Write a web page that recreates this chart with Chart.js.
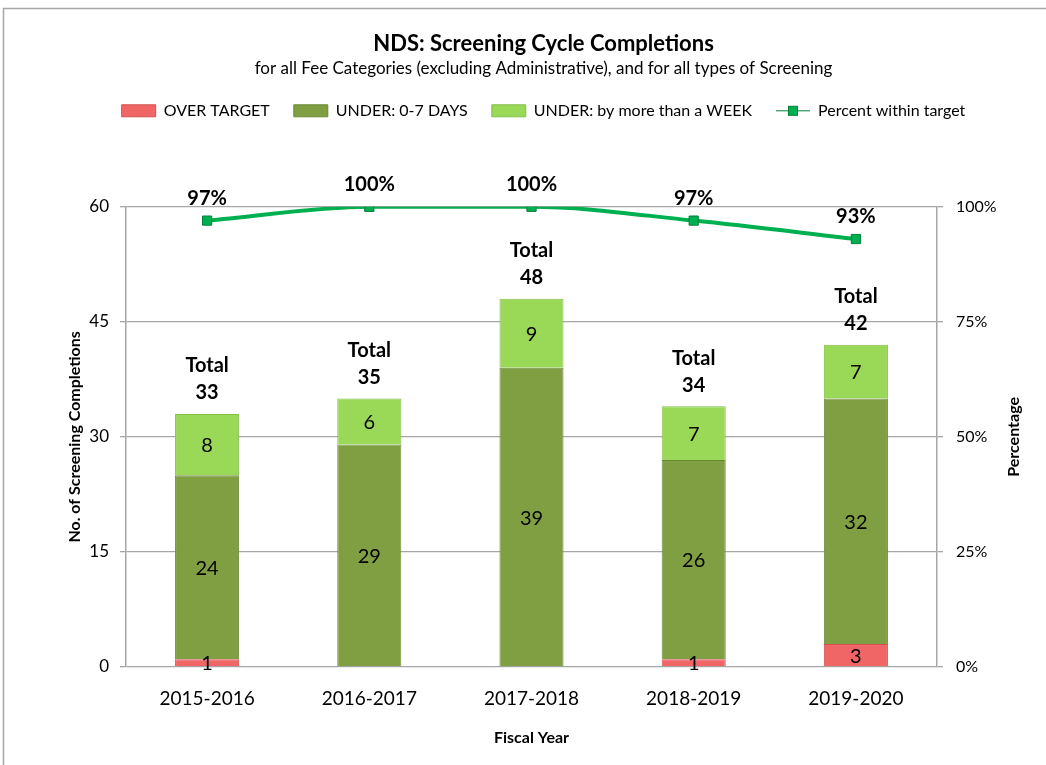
<!DOCTYPE html>
<html>
<head>
<meta charset="utf-8">
<title>NDS: Screening Cycle Completions</title>
<script src="https://cdn.jsdelivr.net/npm/chart.js@4/dist/chart.umd.min.js"></script>
<style>
  body { margin: 0; background: #fff; }
  canvas { display: block; }
</style>
</head>
<body>
<canvas id="chart" width="1046" height="765"></canvas>
<script>
// Data
const categories = ["2015-2016", "2016-2017", "2017-2018", "2018-2019", "2019-2020"];
const overTarget = [1, 0, 0, 1, 3];
const under07Days = [24, 29, 39, 26, 32];
const underMoreThanWeek = [8, 6, 9, 7, 7];
const percentWithin = [97, 100, 100, 97, 93];
const countTicks = [0, 15, 30, 45, 60];
const percentTicks = [0, 25, 50, 75, 100];

const FONT = "Lato, 'Liberation Sans', sans-serif";
const LINE_GREEN = "#00B050";

// grey frame around the chart (top + left edges are visible in the reference)
const framePlugin = {
    id: "frame",
    beforeDraw(chart) {
        const ctx = chart.ctx;
        ctx.save();
        ctx.strokeStyle = "#a6a6a6";
        ctx.lineWidth = 1.5;
        ctx.beginPath();
        ctx.moveTo(3.5, chart.height);
        ctx.lineTo(3.5, 8.5);
        ctx.lineTo(chart.width, 8.5);
        ctx.stroke();
        ctx.restore();
    }
};

// extra room under the legend so the plot starts lower
const legendSpacer = {
    id: "legendSpacer",
    beforeInit(chart) {
        const origFit = chart.legend.fit;
        chart.legend.fit = function () {
            origFit.call(this);
            this.height += 78;
        };
    }
};

// marker on the line legend item + right axis title (reads bottom to top)
const extrasPlugin = {
    id: "extras",
    afterDraw(chart) {
        const ctx = chart.ctx;
        const boxes = chart.legend.legendHitBoxes;
        if (boxes && boxes[3]) {
            const b = boxes[3];
            const cx = b.left + 17;
            const cy = b.top + b.height / 2;
            ctx.save();
            ctx.fillStyle = LINE_GREEN;
            ctx.strokeStyle = "#00803a";
            ctx.lineWidth = 1;
            ctx.fillRect(cx - 4.5, cy - 4.5, 9, 9);
            ctx.strokeRect(cx - 4.5, cy - 4.5, 9, 9);
            ctx.restore();
        }

        const area = chart.chartArea;
        ctx.save();
        ctx.translate(1014, (area.top + area.bottom) / 2);
        ctx.rotate(-Math.PI / 2);
        ctx.font = "bold 16px " + FONT;
        ctx.fillStyle = "#000";
        ctx.textAlign = "center";
        ctx.textBaseline = "middle";
        ctx.fillText("Percentage", 0, 0);
        ctx.restore();
    }
};

// value labels, totals and percentages
const labelPlugin = {
    id: "valueLabels",
    afterDatasetsDraw(chart) {
        const ctx = chart.ctx;
        ctx.save();
        ctx.textAlign = "center";
        ctx.textBaseline = "middle";
        ctx.fillStyle = "#000";

        // segment values
        ctx.font = "20px " + FONT;
        [0, 1, 2].forEach(di => {
            const meta = chart.getDatasetMeta(di);
            const data = chart.data.datasets[di].data;
            meta.data.forEach((el, i) => {
                if (!data[i]) return;
                ctx.fillText(String(data[i]), el.x, (el.y + el.base) / 2 + 1);
            });
        });

        // totals above bars
        ctx.font = "bold 20px " + FONT;
        const topMeta = chart.getDatasetMeta(2);
        topMeta.data.forEach((el, i) => {
            const total = overTarget[i] + under07Days[i] + underMoreThanWeek[i];
            ctx.fillText("Total", el.x, el.y - 48);
            ctx.fillText(String(total), el.x, el.y - 21);
        });

        // percentages above line points
        const lineMeta = chart.getDatasetMeta(3);
        lineMeta.data.forEach((pt, i) => {
            ctx.fillText(percentWithin[i] + "%", pt.x, pt.y - 22);
        });
        ctx.restore();
    }
};

const ctx = document.getElementById("chart").getContext("2d");
new Chart(ctx, {
    type: "bar",
    data: {
        labels: categories,
        datasets: [
            {
                label: "OVER TARGET",
                data: overTarget,
                backgroundColor: "#f06666",
                borderColor: "#d45050",
                borderWidth: 1,
                stack: "s",
                yAxisID: "y",
                barPercentage: 0.395,
                categoryPercentage: 1
            },
            {
                label: "UNDER: 0-7 DAYS",
                data: under07Days,
                backgroundColor: "#809f42",
                borderColor: "#6a8a34",
                borderWidth: 1,
                stack: "s",
                yAxisID: "y",
                barPercentage: 0.395,
                categoryPercentage: 1
            },
            {
                label: "UNDER: by more than a WEEK",
                data: underMoreThanWeek,
                backgroundColor: "#9ad858",
                borderColor: "#84c047",
                borderWidth: 1,
                stack: "s",
                yAxisID: "y",
                barPercentage: 0.395,
                categoryPercentage: 1
            },
            {
                type: "line",
                label: "Percent within target",
                data: percentWithin,
                yAxisID: "y1",
                borderColor: LINE_GREEN,
                backgroundColor: LINE_GREEN,
                borderWidth: 4,
                cubicInterpolationMode: "monotone",
                pointStyle: "rect",
                pointRadius: 6.5,
                pointBackgroundColor: LINE_GREEN,
                pointBorderColor: "#00803a",
                pointBorderWidth: 1,
                fill: false
            }
        ]
    },
    options: {
        responsive: false,
        animation: false,
        layout: { padding: { top: 20, left: 65, right: 24, bottom: 18 } },
        plugins: {
            tooltip: { enabled: false },
            title: {
                display: true,
                text: "NDS: Screening Cycle Completions",
                color: "#000",
                font: { family: FONT, size: 22, weight: "bold" },
                padding: { top: 11, bottom: 0 }
            },
            subtitle: {
                display: true,
                text: "for all Fee Categories (excluding Administrative), and for all types of Screening",
                color: "#000",
                font: { family: FONT, size: 17 },
                padding: { top: 1, bottom: 0 }
            },
            legend: {
                display: true,
                position: "top",
                labels: {
                    color: "#000",
                    font: { family: FONT, size: 16 },
                    usePointStyle: true,
                    pointStyleWidth: 34,
                    boxHeight: 12,
                    padding: 24,
                    generateLabels(chart) {
                        const items = Chart.defaults.plugins.legend.labels.generateLabels(chart);
                        items.forEach((it, i) => {
                            it.pointStyle = i === 3 ? "line" : "rect";
                        });
                        return items;
                    }
                }
            }
        },
        scales: {
            x: {
                stacked: true,
                grid: { display: false, drawTicks: false },
                border: { display: false },
                ticks: { color: "#000", font: { family: FONT, size: 19 }, padding: 20 },
                title: {
                    display: true,
                    text: "Fiscal Year",
                    color: "#000",
                    font: { family: FONT, size: 16, weight: "bold" },
                    padding: { top: 0, bottom: 0 }
                },
                afterFit(scale) { scale.height = 80; }
            },
            y: {
                stacked: true,
                position: "left",
                min: 0,
                max: 60,
                afterBuildTicks(scale) { scale.ticks = countTicks.map(v => ({ value: v })); },
                grid: { color: "#a6a6a6", lineWidth: 1.3, tickLength: 6, drawTicks: true },
                border: { display: true, color: "#a6a6a6", width: 1.5 },
                ticks: { color: "#000", font: { family: FONT, size: 17 }, padding: 11 },
                title: {
                    display: true,
                    text: "No. of Screening Completions",
                    color: "#000",
                    font: { family: FONT, size: 16, weight: "bold" },
                    padding: { top: 0, bottom: 0 }
                },
                afterFit(scale) { scale.width = 61; }
            },
            y1: {
                position: "right",
                min: 0,
                max: 100,
                afterBuildTicks(scale) { scale.ticks = percentTicks.map(v => ({ value: v })); },
                grid: { drawOnChartArea: false, color: "#a6a6a6", lineWidth: 1.3, tickLength: 6 },
                border: { display: true, color: "#a6a6a6", width: 1.5 },
                ticks: {
                    color: "#000",
                    font: { family: FONT, size: 16 },
                    padding: 13,
                    callback: v => v + "%"
                },
                title: { display: false },
                afterFit(scale) { scale.width = 85; }
            }
        }
    },
    plugins: [framePlugin, legendSpacer, extrasPlugin, labelPlugin]
});
</script>
</body>
</html>
